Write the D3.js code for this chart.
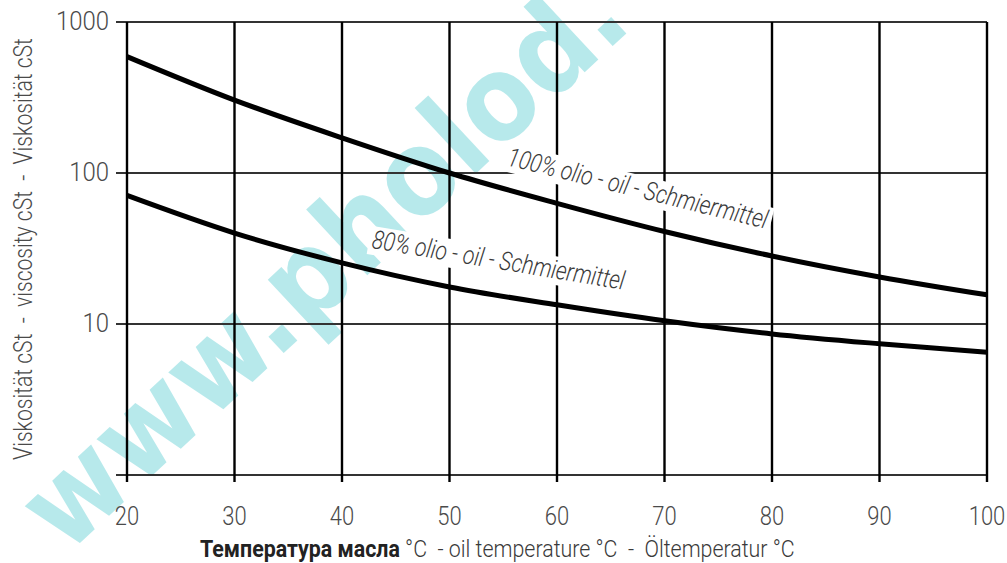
<!DOCTYPE html>
<html><head><meta charset="utf-8">
<script src="https://cdn.jsdelivr.net/npm/d3@7"></script>
<style>html,body{margin:0;padding:0;background:#fff} text{white-space:pre}</style>
</head><body><svg id="c" width="1007" height="563"></svg>
<script>
const temps = [20,30,40,50,60,70,80,90,100];
const oil100 = [590,304,171,100,63,41,28.2,20.5,15.6];
const oil80 = [71,40,25.4,17.6,13.4,10.5,8.6,7.4,6.5];
const yTicks = [1,10,100,1000];
const xTicks = [20,30,40,50,60,70,80,90,100];
const label100 = "100% olio - oil - Schmiermittel";
const label80 = "80% olio - oil - Schmiermittel";
const yTitle = "Viskosität cSt  -  viscosity cSt  -  Viskosität cSt";
const xTitleRu = "Температура масла";
const xTitleRest = " °C  - oil temperature °C  -  Öltemperatur °C";

const svg = d3.select("#c");
const font = "Roboto, sans-serif";
const x = d3.scaleLinear().domain([20,100]).range([127,987]);
const y = d3.scaleLog().domain([1,1000]).range([475,22]);

// watermark
svg.append("text").attr("transform","translate(66,556) rotate(-43)")
  .attr("font-family","'DejaVu Sans Condensed','DejaVu Sans',sans-serif").attr("font-stretch","condensed")
  .attr("font-weight","bold")
  .attr("font-size",118).attr("fill","#00b3bb").attr("opacity",0.28)
  .text("www.pholod.");

const g = svg.append("g");
// horizontal grid
g.selectAll("line.h").data(yTicks).join("line")
  .attr("x1",116).attr("x2",x(100)).attr("y1",d=>y(d)).attr("y2",d=>y(d))
  .attr("stroke","#333").attr("stroke-width",2);
// vertical grid
g.selectAll("line.v").data(xTicks).join("line")
  .attr("x1",d=>x(d)).attr("x2",d=>x(d)).attr("y1",y(1000)).attr("y2",482)
  .attr("stroke","#000").attr("stroke-width",2.4);

// y tick labels
g.selectAll("g.yt").data(yTicks.filter(d=>d>1)).join("g")
  .attr("transform",d=>`translate(109,${y(d)+8}) scale(0.92,1)`)
  .append("text").attr("text-anchor","end")
  .attr("font-family",font).attr("font-weight",300).attr("font-size",26).attr("fill","#4a4a4a")
  .text(d=>d);
// x tick labels
g.selectAll("g.xt").data(xTicks).join("g")
  .attr("transform",d=>`translate(${x(d)},525) scale(0.88,1)`)
  .append("text").attr("text-anchor","middle")
  .attr("font-family",font).attr("font-weight",300).attr("font-size",25).attr("fill","#4a4a4a")
  .text(d=>d);

// curve labels with white backgrounds
function curveLabel(txt, px, py, ang){
  const lg = svg.append("g").attr("transform",`translate(${px},${py}) rotate(${ang}) scale(0.82,1)`);
  const t = lg.append("text").attr("font-family",font).attr("font-style","italic").attr("font-weight",300)
    .attr("font-size",26).attr("fill","#3a3a3a").text(txt);
  const b = t.node().getBBox();
  lg.insert("rect","text").attr("x",b.x-4).attr("y",b.y+2).attr("width",b.width+8).attr("height",b.height-2)
    .attr("fill","#fff");
}
curveLabel(label100, 506, 165, 13.8);
curveLabel(label80, 371, 248, 9.4);

// curves
const line = d3.line().x((d,i)=>x(temps[i])).y(d=>y(d)).curve(d3.curveMonotoneX);
[oil100, oil80].forEach(s=>{
  svg.append("path").attr("d",line(s)).attr("fill","none").attr("stroke","#000").attr("stroke-width",5);
});

// x axis title, scaled to the reference width
const xg = svg.append("g");
const xt = xg.append("text").attr("x",0).attr("y",0)
  .attr("font-family",font).attr("font-size",24).attr("font-weight",300).attr("fill","#3a3a3a");
xt.append("tspan").attr("font-weight","bold").attr("fill","#222").text(xTitleRu);
xt.append("tspan").text(xTitleRest);
const xw = xt.node().getComputedTextLength();
xg.attr("transform",`translate(200,557) scale(${595/xw},1)`);

// y axis title
const yg = svg.append("g");
const yt = yg.append("text").attr("text-anchor","middle")
  .attr("font-family",font).attr("font-weight",300).attr("font-size",26).attr("fill","#4a4a4a").text(yTitle);
const yw = yt.node().getComputedTextLength();
yg.attr("transform",`translate(32,249) rotate(-90) scale(${422/yw},1)`);
</script></body></html>
